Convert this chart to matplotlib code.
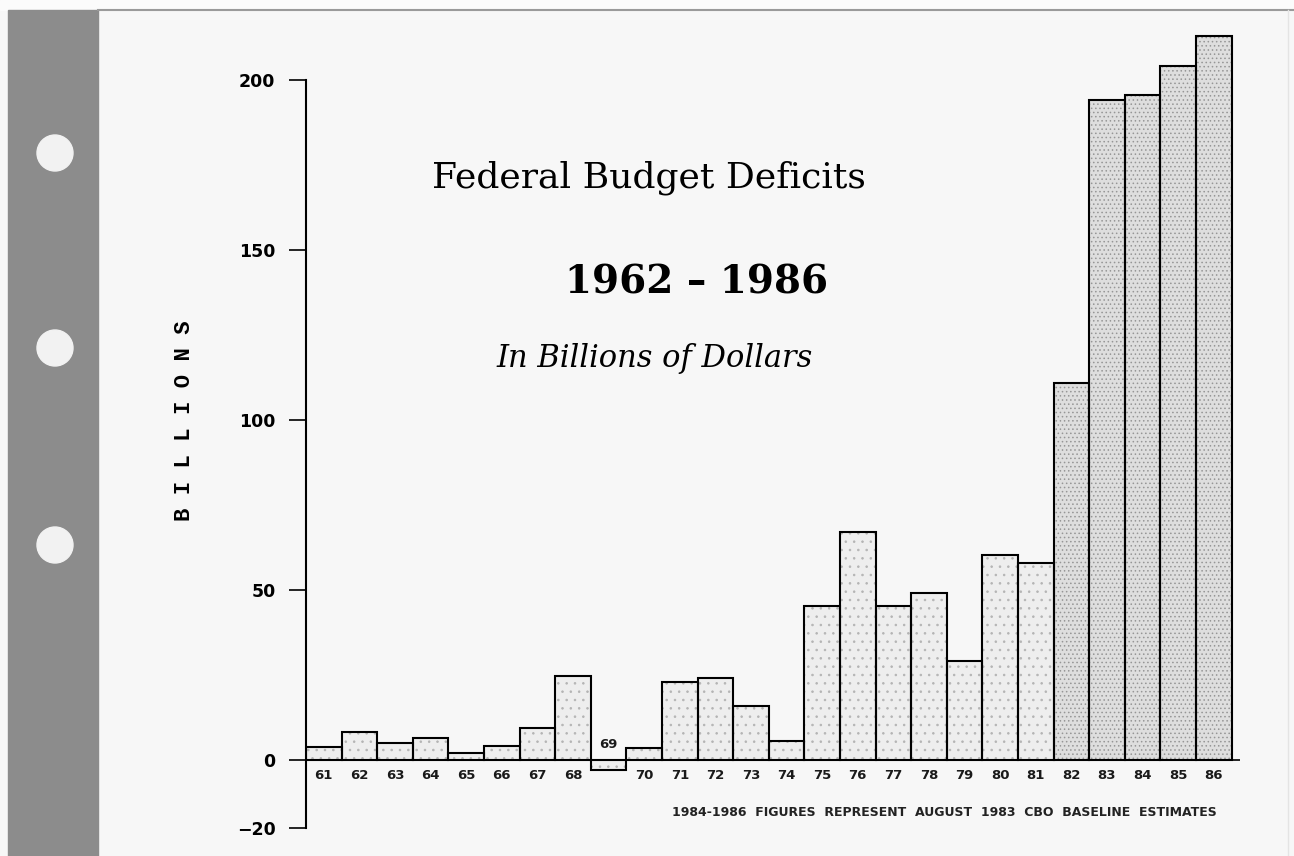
import numpy as np
import matplotlib.pyplot as plt
from matplotlib.patches import Rectangle, Circle

# dane (miliardy dolarow)
years = ['61', '62', '63', '64', '65', '66', '67', '68', '69', '70',
         '71', '72', '73', '74', '75', '76', '77', '78', '79', '80',
         '81', '82', '83', '84', '85', '86']
deficits = [3.8, 8.3, 5.0, 6.4, 2.0, 4.1, 9.3, 24.8, -3.0, 3.6,
            23.0, 24.0, 16.0, 5.6, 45.3, 67.0, 45.3, 49.2, 29.0, 60.3,
            58.0, 111.0, 194.0, 195.5, 204.0, 212.8]
yticks = [-20, 0, 50, 100, 150, 200]

W, H = 1294, 856
fig = plt.figure(figsize=(W / 100, H / 100), dpi=100)
fig.patch.set_facecolor('#f7f7f7')

# tlo strony: szary pasek z dziurkami
bg = fig.add_axes([0, 0, 1, 1])
bg.set_xlim(0, W)
bg.set_ylim(H, 0)
bg.axis('off')
bg.add_patch(Rectangle((0, 0), W, 10, color='#fbfbfb'))
bg.add_patch(Rectangle((8, 10), 90, H, color='#8c8c8c'))
bg.plot([98, W], [10, 10], color='#9a9a9a', lw=1.5)
bg.plot([1288, 1288], [10, H], color='#e4e4e4', lw=1)
for yc in [153, 348, 545]:
    bg.add_patch(Circle((55, yc), 18, color='#f2f2f2'))

# os wykresu
x0, x1 = 306, 1240
bw = 35.6
ax = fig.add_axes([x0 / W, 28 / H, (x1 - x0) / W, (827 - 28) / H])
ax.set_facecolor('none')
ax.set_xlim(-0.5, (x1 - x0) / bw - 0.5)
ax.set_ylim(-20, (827 - 96) / 3.4)

idx = np.arange(len(years))
light = idx < 21
plt.rcParams['hatch.linewidth'] = 0.6
ax.bar(idx[light], np.array(deficits)[light], width=1.0, color='#eeeeee',
       edgecolor='#b4b4b4', hatch='..', lw=0)
ax.bar(idx[~light], np.array(deficits)[~light], width=1.0, color='#dedede',
       edgecolor='#969696', hatch='....', lw=0)
ax.bar(idx, deficits, width=1.0, fill=False, edgecolor='black', lw=1.5)
ax.axhline(0, color='black', lw=1.2)

for i, lab in enumerate(years):
    yy = 4.5 if deficits[i] < 0 else -4.6
    ax.text(i, yy, lab, ha='center', va='center', fontsize=9.5,
            fontweight='bold', color='#1a1a1a')

for s in ['top', 'right', 'bottom']:
    ax.spines[s].set_visible(False)
ax.spines['left'].set_bounds(-20, 200)
ax.spines['left'].set_linewidth(1.5)
ax.set_xticks([])
ax.set_yticks(yticks)
ax.set_yticklabels([str(v).replace('-', '\u2212') for v in yticks],
                   fontsize=12.5, fontweight='bold')
ax.tick_params(axis='y', length=12, width=1.2, pad=10)

# tytuly
fig.text(649 / W, 1 - 178 / H, 'Federal Budget Deficits', ha='center',
         va='center', family='DejaVu Serif', fontsize=26)
fig.text(697 / W, 1 - 282 / H, '1962 \u2013 1986', ha='center',
         va='center', family='DejaVu Serif', fontweight='bold', fontsize=28)
fig.text(655 / W, 1 - 358 / H, 'In Billions of Dollars', ha='center',
         va='center', family='DejaVu Serif', style='italic', fontsize=22)

fig.text(185 / W, 1 - 421 / H, 'B I L L I O N S', rotation=90, ha='center',
         va='center', family='Liberation Mono', fontweight='bold', fontsize=16)

fig.text(1217 / W, 1 - 813 / H,
         '1984-1986  FIGURES  REPRESENT  AUGUST  1983  CBO  BASELINE  ESTIMATES',
         ha='right', va='center', fontsize=9, fontweight='bold', color='#222222')

plt.savefig('out.png', dpi=100, facecolor=fig.get_facecolor())
